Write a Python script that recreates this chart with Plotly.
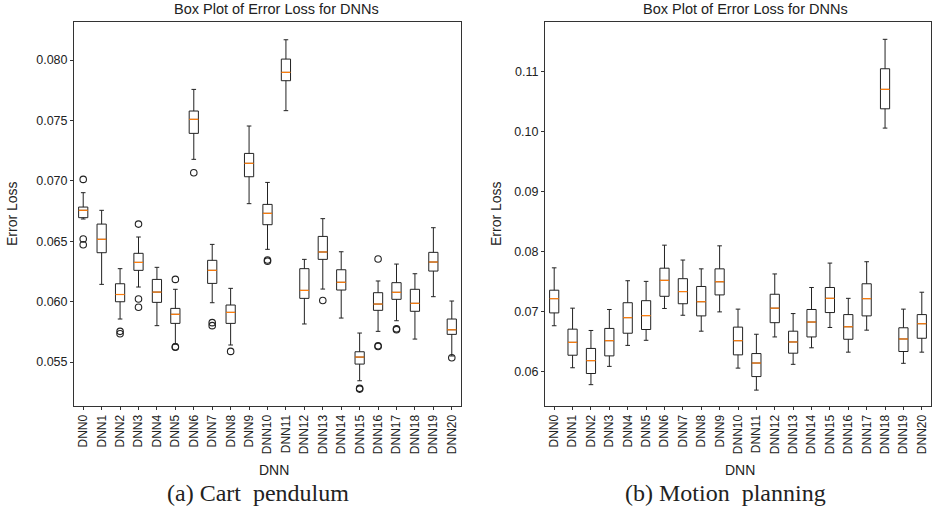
import plotly.graph_objects as go

names = [f"DNN{i}" for i in range(21)]

# (a) Cart pendulum
cp_lower = [0.06684, 0.06143, 0.05856, 0.06121, 0.05801, 0.05649, 0.07178, 0.05991, 0.05641, 0.06811, 0.06433,
            0.07581, 0.05815, 0.06104, 0.05864, 0.05345, 0.05754, 0.05842, 0.05690, 0.06041, 0.05550]
cp_q1 = [0.06695, 0.06405, 0.05999, 0.06259, 0.05994, 0.05820, 0.07393, 0.06151, 0.05820, 0.07034, 0.06637,
         0.07829, 0.06027, 0.06350, 0.06096, 0.05483, 0.05928, 0.06019, 0.05920, 0.06253, 0.05729]
cp_med = [0.06756, 0.06516, 0.06059, 0.06325, 0.06079, 0.05895, 0.07509, 0.06259, 0.05911, 0.07145, 0.06731,
          0.07898, 0.06093, 0.06411, 0.06160, 0.05541, 0.05980, 0.06077, 0.05986, 0.06328, 0.05767]
cp_q3 = [0.06783, 0.06642, 0.06148, 0.06400, 0.06184, 0.05944, 0.07578, 0.06342, 0.05972, 0.07227, 0.06805,
         0.08008, 0.06273, 0.06540, 0.06264, 0.05585, 0.06074, 0.06157, 0.06102, 0.06408, 0.05856]
cp_upper = [0.06902, 0.06756, 0.06273, 0.06535, 0.06284, 0.06102, 0.07757, 0.06474, 0.06110, 0.07454, 0.06987,
            0.08168, 0.06350, 0.06687, 0.06413, 0.05740, 0.06171, 0.06311, 0.06231, 0.06612, 0.06005]
cp_out_idx = [0, 0, 0, 2, 2, 3, 3, 3, 5, 5, 5, 6, 7, 7, 8, 10, 10, 13, 15, 15, 16, 16, 16, 17, 17, 20]
cp_out_val = [0.07012, 0.06518, 0.06471, 0.05754, 0.05734, 0.06642, 0.06022, 0.05953, 0.06184, 0.05627, 0.05622,
              0.07067, 0.05826, 0.05801, 0.05588, 0.06345, 0.06335, 0.06010, 0.05282, 0.05276, 0.06353, 0.05634,
              0.05628, 0.05775, 0.05768, 0.05536]

# (b) Motion planning
mp_lower = [0.06763, 0.06062, 0.05780, 0.06085, 0.06435, 0.06520, 0.07051, 0.06938, 0.06672, 0.06994, 0.06056,
            0.05689, 0.06576, 0.06119, 0.06395, 0.06734, 0.06322, 0.06689, 0.10060, 0.06136, 0.06322]
mp_q1 = [0.06977, 0.06271, 0.05966, 0.06260, 0.06638, 0.06700, 0.07254, 0.07130, 0.06927, 0.07277, 0.06277,
         0.05915, 0.06814, 0.06305, 0.06576, 0.06983, 0.06537, 0.06927, 0.10382, 0.06333, 0.06554]
mp_med = [0.07215, 0.06486, 0.06181, 0.06514, 0.06898, 0.06932, 0.07520, 0.07333, 0.07164, 0.07497, 0.06514,
          0.06141, 0.07056, 0.06492, 0.06825, 0.07220, 0.06746, 0.07215, 0.10706, 0.06542, 0.06797]
mp_q3 = [0.07356, 0.06706, 0.06384, 0.06718, 0.07147, 0.07181, 0.07723, 0.07548, 0.07418, 0.07712, 0.06740,
         0.06299, 0.07288, 0.06672, 0.07034, 0.07401, 0.06949, 0.07463, 0.11050, 0.06729, 0.06949]
mp_upper = [0.07729, 0.07056, 0.06684, 0.07034, 0.07514, 0.07503, 0.08107, 0.07859, 0.07712, 0.08096, 0.07040,
            0.06621, 0.07627, 0.06966, 0.07401, 0.07808, 0.07220, 0.07831, 0.11541, 0.07040, 0.07322]

W = 0.5  # box width in category units
FONT = "Liberation Sans, Arial, sans-serif"

fig = go.Figure()


def add_panel(fig, xa, ya, lower, q1, med, q3, upper, out_idx=None, out_val=None):
    xs = list(range(len(names)))
    fig.add_trace(go.Box(
        x=xs, q1=q1, median=med, q3=q3, lowerfence=lower, upperfence=upper,
        boxpoints=False, width=W, whiskerwidth=0.5,
        fillcolor="rgba(0,0,0,0)", line=dict(color="#222", width=1),
        xaxis=xa, yaxis=ya, showlegend=False, hoverinfo="skip"
    ))
    mx, my = [], []
    for i, m in enumerate(med):
        mx += [i - W / 2, i + W / 2, None]
        my += [m, m, None]
    fig.add_trace(go.Scatter(
        x=mx, y=my, mode="lines", line=dict(color="#ff7f0e", width=1.2),
        xaxis=xa, yaxis=ya, showlegend=False, hoverinfo="skip"
    ))
    if out_idx:
        fig.add_trace(go.Scatter(
            x=out_idx, y=out_val, mode="markers",
            marker=dict(symbol="circle-open", size=6.5, color="#222", line=dict(width=1.1)),
            xaxis=xa, yaxis=ya, showlegend=False, hoverinfo="skip"
        ))


add_panel(fig, "x", "y", cp_lower, cp_q1, cp_med, cp_q3, cp_upper, cp_out_idx, cp_out_val)
add_panel(fig, "x2", "y2", mp_lower, mp_q1, mp_med, mp_q3, mp_upper)

xcommon = dict(range=[-0.5, 20.5], tickmode="array", tickvals=list(range(21)), ticktext=names,
               tickangle=-90, ticks="outside", ticklen=3, tickcolor="#333",
               showline=True, linecolor="#333", linewidth=1, mirror=True,
               showgrid=False, zeroline=False, tickfont=dict(family=FONT, size=12, color="#222"))
ycommon = dict(ticks="outside", ticklen=3, tickcolor="#333",
               showline=True, linecolor="#333", linewidth=1, mirror=True,
               showgrid=False, zeroline=False, tickfont=dict(family=FONT, size=12.5, color="#222"))

fig.update_layout(
    width=933, height=508,
    margin=dict(l=0, r=0, t=0, b=0),
    paper_bgcolor="white", plot_bgcolor="white",
    xaxis=dict(domain=[74 / 933, 461 / 933], anchor="y", **xcommon),
    yaxis=dict(domain=[1 - 406 / 508, 1 - 22 / 508], anchor="x", range=[0.05136, 0.08315],
               tickvals=[0.055, 0.060, 0.065, 0.070, 0.075, 0.080], tickformat=".3f", **ycommon),
    xaxis2=dict(domain=[545 / 933, 931 / 933], anchor="y2", **xcommon),
    yaxis2=dict(domain=[1 - 406 / 508, 1 - 22 / 508], anchor="x2", range=[0.05424, 0.1183],
                tickvals=[0.06, 0.07, 0.08, 0.09, 0.10, 0.11], tickformat=".2f", **ycommon),
)

texts = [
    ("Box Plot of Error Loss for DNNs", 276.7, 9, 14.5, FONT, 0),
    ("Box Plot of Error Loss for DNNs", 745.5, 9, 14.5, FONT, 0),
    ("Error Loss", 12, 214, 14, FONT, -90),
    ("Error Loss", 496, 214, 14, FONT, -90),
    ("DNN", 273.5, 470, 14, FONT, 0),
    ("DNN", 740, 470, 14, FONT, 0),
    ("(a) Cart\u00a0 pendulum", 258, 492.5, 24, "Liberation Serif, Times New Roman, serif", 0),
    ("(b) Motion\u00a0 planning", 725, 492.5, 24, "Liberation Serif, Times New Roman, serif", 0),
]
for t, x, y, s, fam, ang in texts:
    fig.add_annotation(text=t, x=x / 933, y=1 - y / 508, xref="paper", yref="paper",
                       xanchor="center", yanchor="middle", showarrow=False, textangle=ang,
                       font=dict(family=fam, size=s, color="#222"))

# page body has a default 8px margin; drop it so the figure fills the window
fig.write_html("out.html", config={"displayModeBar": False},
               post_script="document.body.style.margin='0';document.body.style.overflow='hidden';")
